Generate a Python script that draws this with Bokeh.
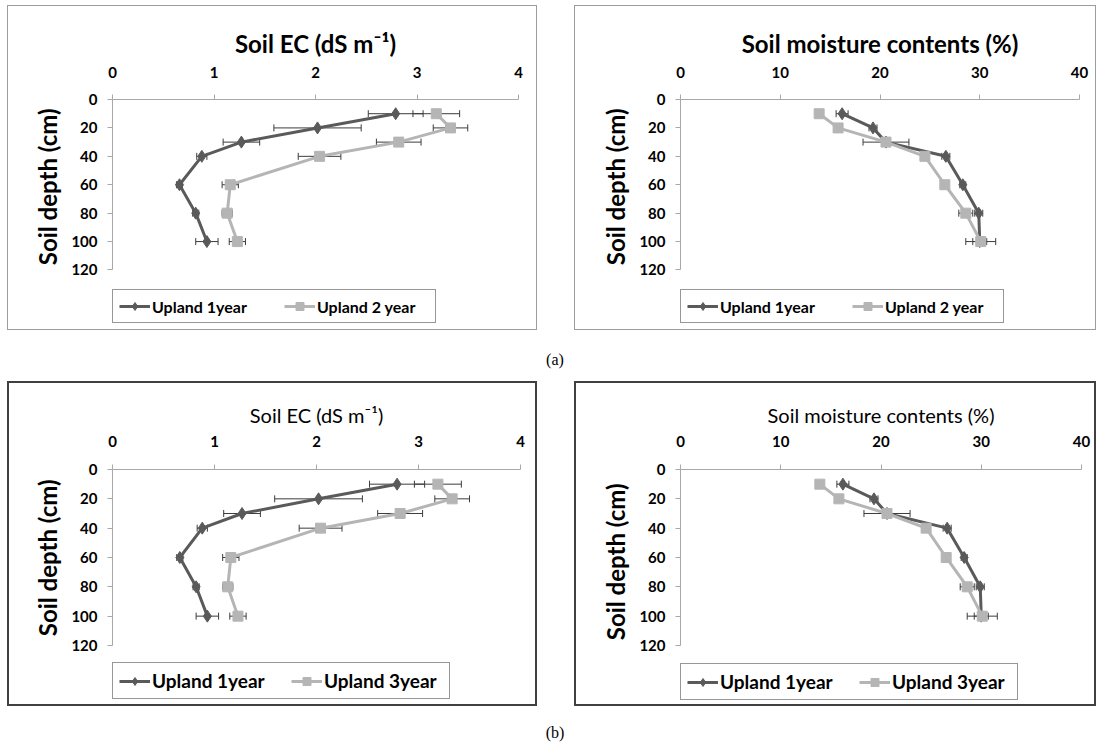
from bokeh.plotting import figure
from bokeh.models import (Range1d, FixedTicker, Whisker, TeeHead, ColumnDataSource,
                          Legend, LegendItem, Div, Title)
from bokeh.layouts import row, column
from bokeh.embed import file_html
from bokeh.resources import INLINE

# ---------------- data ----------------
depth = [10, 20, 30, 40, 60, 80, 100]

ec_1year = [2.79, 2.02, 1.27, 0.88, 0.66, 0.82, 0.93]
ec_1year_err = [0.27, 0.43, 0.18, 0.05, 0.03, 0.03, 0.11]
ec_2year = [3.19, 3.33, 2.82, 2.04, 1.16, 1.13, 1.23]
ec_2year_err = [0.23, 0.17, 0.22, 0.21, 0.08, 0.05, 0.08]
ec_3year = [3.19, 3.33, 2.82, 2.04, 1.16, 1.13, 1.23]
ec_3year_err = [0.23, 0.17, 0.22, 0.21, 0.08, 0.05, 0.08]

mc_1year = [16.2, 19.3, 20.6, 26.6, 28.3, 29.9, 30.0]
mc_1year_err = [0.6, 0.4, 2.3, 0.4, 0.3, 0.4, 0.7]
mc_2year = [13.9, 15.8, 20.6, 24.5, 26.5, 28.6, 30.1]
mc_2year_err = [0.1, 0.1, 0.2, 0.1, 0.1, 0.7, 1.5]
mc_3year = [13.9, 15.8, 20.6, 24.5, 26.5, 28.6, 30.1]
mc_3year_err = [0.1, 0.1, 0.2, 0.1, 0.1, 0.7, 1.5]

ec_ticks = [0, 1, 2, 3, 4]
mc_ticks = [0, 10, 20, 30, 40]
depth_ticks = [0, 20, 40, 60, 80, 100, 120]
depth_max = 120
y_label = "Soil depth (cm)"

FONT = "Lato"
DARK = "#5a5a5a"
LIGHT = "#b5b5b5"
AXIS = "#a8a8a8"
ERR = "#3c3c3c"


def panel(width, bw, x0_px, x_len_px, y0_px, y120_px, x_ticks, title,
          title_size, title_style, title_standoff, tick_standoff, s1, e1, s2, e2,
          lab1, lab2, leg_size, leg_lw, leg_bottom, ylab_offset, border):
    height = 325
    cw, ch = width - 2 * bw, height - 2 * bw
    x_max = x_ticks[-1]
    frame_left = x0_px - bw
    frame_w = x_len_px
    frame_top = y0_px - bw
    frame_bottom = ch - 3
    ppy = (y120_px - y0_px) / depth_max
    y_end = (frame_bottom - frame_top) / ppy
    p = figure(width=width, height=height, x_range=Range1d(0, x_max),
               y_range=Range1d(y_end, 0), x_axis_location="above",
               output_backend="svg", toolbar_location=None,
               min_border_left=frame_left, min_border_top=frame_top,
               min_border_bottom=ch - frame_bottom,
               min_border_right=cw - frame_left - frame_w,
               title=title)
    p.styles = {"border": border}
    p.background_fill_color = "white"
    p.border_fill_color = "white"
    p.outline_line_color = None
    p.xgrid.visible = False
    p.ygrid.visible = False

    p.title.align = "center"
    p.title.text_font = FONT
    p.title.text_font_style = title_style
    p.title.text_font_size = title_size
    p.title.text_color = "black"
    p.title.standoff = title_standoff

    for ax in (p.xaxis[0], p.yaxis[0]):
        ax.axis_line_color = AXIS
        ax.major_tick_line_color = AXIS
        ax.major_tick_out = 5
        ax.major_tick_in = 0
        ax.minor_tick_out = 0
        ax.minor_tick_in = 0
        ax.major_label_text_font = FONT
        ax.major_label_text_font_style = "bold"
        ax.major_label_text_font_size = "15px"
        ax.major_label_text_color = "black"
        ax.major_label_standoff = 10
    p.xaxis.major_label_standoff = tick_standoff
    p.xaxis.ticker = FixedTicker(ticks=x_ticks)
    p.yaxis.ticker = FixedTicker(ticks=depth_ticks)
    p.yaxis.bounds = (0, depth_max)

    # y axis title, anchored to the top of the plotting area
    yt = Title(text=y_label, align="right", offset=ylab_offset, standoff=14,
               text_font=FONT, text_font_style="bold", text_font_size="24px",
               text_color="black")
    p.add_layout(yt, "left")

    l1 = p.line(x=s1, y=depth, line_color=DARK, line_width=3)
    m1 = p.scatter(x=s1, y=depth, marker="diamond", size=12, fill_color=DARK,
                   line_color=DARK)
    l2 = p.line(x=s2, y=depth, line_color=LIGHT, line_width=3)
    m2 = p.scatter(x=s2, y=depth, marker="square", size=10, fill_color=LIGHT,
                   line_color=LIGHT)

    for s, e in ((s1, e1), (s2, e2)):
        src = ColumnDataSource(dict(base=depth,
                                    lo=[a - b for a, b in zip(s, e)],
                                    hi=[a + b for a, b in zip(s, e)]))
        w = Whisker(base="base", lower="lo", upper="hi", dimension="width",
                    source=src, line_color=ERR, line_width=1,
                    upper_head=TeeHead(size=7, line_color=ERR, line_width=1),
                    lower_head=TeeHead(size=7, line_color=ERR, line_width=1))
        p.add_layout(w)

    leg = Legend(items=[LegendItem(label=lab1, renderers=[l1, m1]),
                        LegendItem(label=lab2, renderers=[l2, m2])],
                 orientation="horizontal",
                 location=(0, frame_bottom - (leg_bottom - bw)))
    leg.border_line_color = "#303030"
    leg.border_line_width = 1
    leg.background_fill_color = "white"
    leg.label_text_font = FONT
    leg.label_text_font_style = "bold"
    leg.label_text_font_size = leg_size
    leg.label_text_color = "black"
    leg.glyph_width = 31
    leg.glyph_height = 20
    leg.label_height = 20
    leg.label_standoff = 2
    leg.label_width = leg_lw
    leg.spacing = 20
    leg.padding = 6
    leg.margin = 0
    p.add_layout(leg, "center")
    return p


border_a = "1px solid #9c9c9c"
border_b = "2px solid #404040"

# pixel layout (relative to each panel's outer box)
pa1 = panel(530, 1, 105, 404, 94, 263, ec_ticks, "Soil EC (dS m\u207b\u00b9)", "24px",
            "bold", 12, 17, ec_1year, ec_1year_err, ec_2year, ec_2year_err,
            "Upland 1year", "Upland 2 year", "16px", 112, 316, 9, border_a)
pa2 = panel(522, 1, 106, 397, 94, 263, mc_ticks, "Soil moisture contents (%)", "24px",
            "bold", 12, 17, mc_1year, mc_1year_err, mc_2year, mc_2year_err,
            "Upland 1year", "Upland 2 year", "16px", 112, 316, 9, border_a)
pb1 = panel(530, 2, 105, 404, 88, 261, ec_ticks, "Soil EC (dS m\u207b\u00b9)", "20px",
            "normal", 12, 18, ec_1year, ec_1year_err, ec_3year, ec_3year_err,
            "Upland 1year", "Upland 3year", "19px", 119, 314, 10, border_b)
pb2 = panel(522, 2, 106, 397, 88, 261, mc_ticks, "Soil moisture contents (%)", "20px",
            "normal", 12, 18, mc_1year, mc_1year_err, mc_3year, mc_3year_err,
            "Upland 1year", "Upland 3year", "19px", 119, 315, 14, border_b)

lab_style = "text-align:center;font-family:'Liberation Serif';font-size:16px;line-height:16px;"
div_a = Div(text=f'<div style="{lab_style}padding-top:22px;width:1096px">(a)</div>',
            width=1089, height=51, margin=0)
div_b = Div(text=f'<div style="{lab_style}padding-top:19px;width:1096px">(b)</div>',
            width=1089, height=38, margin=0)

layout = column(row(pa1, pa2, spacing=37), div_a, row(pb1, pb2, spacing=37), div_b,
                spacing=0, styles={"margin-top": "5px", "margin-left": "7px"})

open("out.html", "w").write(file_html(layout, INLINE))
